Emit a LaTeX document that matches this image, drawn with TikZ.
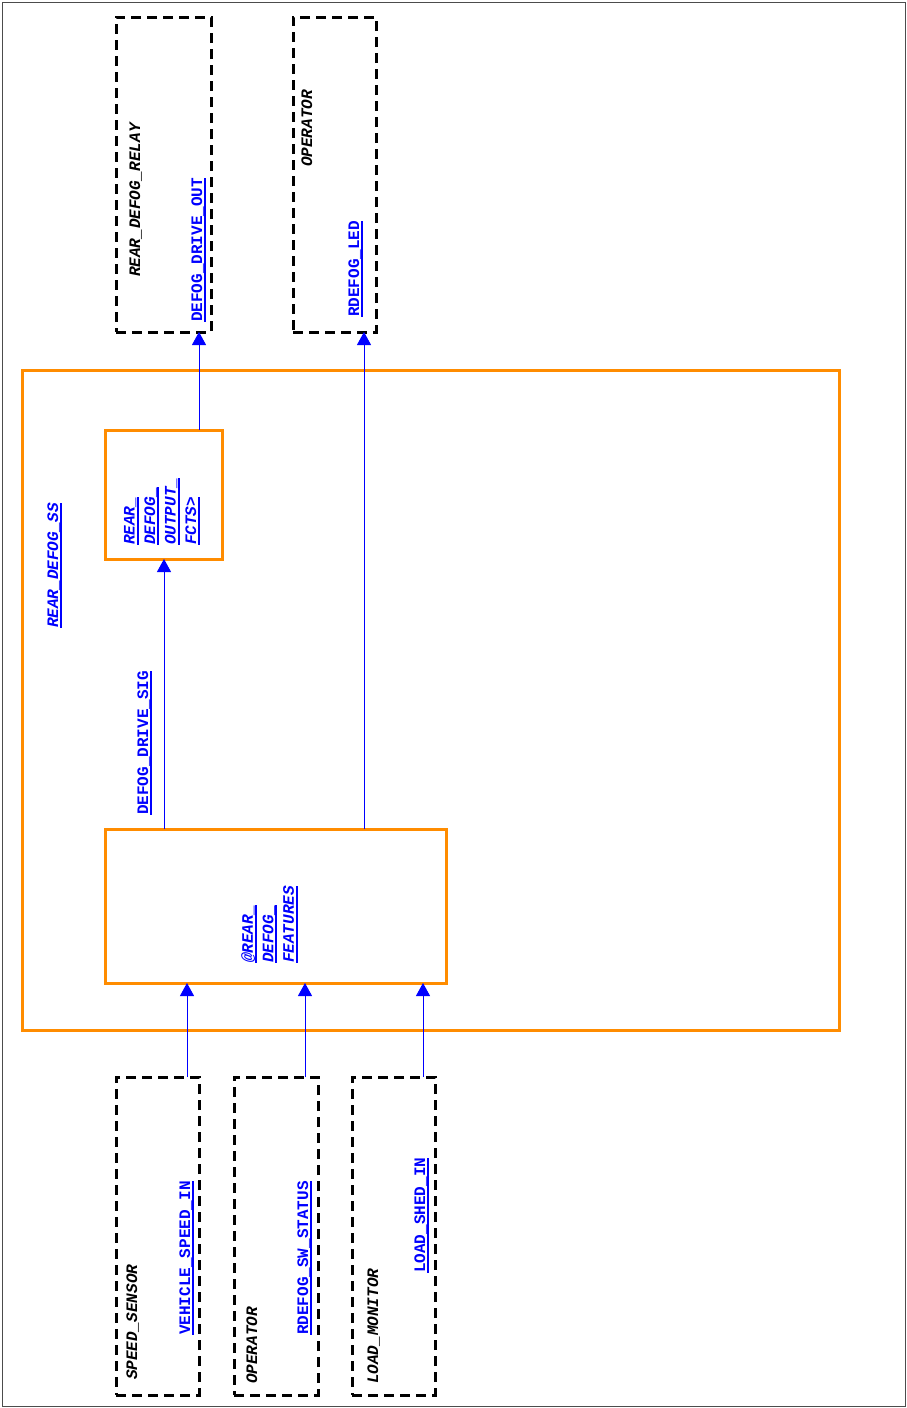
\documentclass[tikz,border=0pt]{standalone}
\usepackage{fontspec}
\setmonofont{Liberation Mono}
\usetikzlibrary{arrows.meta}
\definecolor{sigblue}{RGB}{0,0,255}
\definecolor{boxorange}{RGB}{255,140,0}
\newcommand\ulbox[1]{\setbox0\hbox{#1}\rlap{\color{sigblue}\rule[-3.8pt]{\wd0}{2pt}}\box0}
\begin{document}
\begin{tikzpicture}[x=1pt,y=-1pt,
  dbox/.style={draw=black, line width=3pt, dash pattern=on 10pt off 6pt, inner sep=0pt, outer sep=0pt, anchor=north west},
  obox/.style={draw=boxorange, line width=3pt, inner sep=0pt, outer sep=0pt, anchor=north west},
  blk/.style={font=\ttfamily\bfseries\itshape\fontsize{16}{20.5}\selectfont, text=black, inner sep=0pt, rotate=90, anchor=base west},
  bluit/.style={blk, text=sigblue},
  sigtxt/.style={blk, text=sigblue, font=\ttfamily\bfseries\fontsize{16}{20.5}\selectfont},
  multi/.style={bluit, align=left, anchor=north west},
  arr/.style={draw=sigblue, line width=1pt, -{Triangle[width=14pt,length=13pt]}}
]
\useasboundingbox (0,0) rectangle (907,1408);
\draw[black!70, line width=1pt] (2,2) rectangle (905,1406);

% boxes
\node[dbox, minimum width=95pt, minimum height=315pt] (relay) at (116,17) {};
\node[dbox, minimum width=83pt, minimum height=315pt] (opTop) at (293,17) {};
\node[obox, minimum width=817pt, minimum height=660pt] (ss) at (22,370) {};
\node[obox, minimum width=117pt, minimum height=129pt] (fcts) at (105,430) {};
\node[obox, minimum width=341pt, minimum height=154pt] (feat) at (105,829) {};
\node[dbox, minimum width=83pt, minimum height=318pt] (speed) at (116,1077) {};
\node[dbox, minimum width=84pt, minimum height=318pt] (opBot) at (234,1077) {};
\node[dbox, minimum width=83pt, minimum height=318pt] (load) at (352,1077) {};

% texts
\node[blk] (tRelay) at (140,277) {REAR\_DEFOG\_RELAY};
\node[sigtxt] (tDriveOut) at (202,322) {\ulbox{DEFOG\_DRIVE\_OUT}};
\node[blk] (tOpTop) at (312,167) {OPERATOR};
\node[sigtxt] (tLed) at (359,317) {\ulbox{RDEFOG\_LED}};
\node[bluit] (tSS) at (58,628) {\ulbox{REAR\_DEFOG\_SS}};
\node[multi] (tFcts) at (124,545) {\ulbox{REAR\_}\\\ulbox{DEFOG\_}\\\ulbox{OUTPUT\_}\\\ulbox{FCTS>}};
\node[sigtxt] (tSig) at (148,815) {\ulbox{DEFOG\_DRIVE\_SIG}};
\node[multi] (tFeat) at (241,963) {\ulbox{@REAR\_}\\\ulbox{DEFOG\_}\\\ulbox{FEATURES}};
\node[blk] (tSpeed) at (137,1380) {SPEED\_SENSOR};
\node[sigtxt] (tVeh) at (190,1335) {\ulbox{VEHICLE\_SPEED\_IN}};
\node[blk] (tOpBot) at (257,1384) {OPERATOR};
\node[sigtxt] (tSw) at (308,1335) {\ulbox{RDEFOG\_SW\_STATUS}};
\node[blk] (tLoad) at (378,1384) {LOAD\_MONITOR};
\node[sigtxt] (tShed) at (425,1273) {\ulbox{LOAD\_SHED\_IN}};

% connector columns
\coordinate (c199) at (199,0);
\coordinate (c364) at (364,0);
\coordinate (c164) at (164,0);
\coordinate (c187) at (187,0);
\coordinate (c305) at (305,0);
\coordinate (c423) at (423,0);

\draw[arr] (fcts.north -| c199) -- (relay.south -| c199);
\draw[arr] (feat.north -| c364) -- (opTop.south -| c364);
\draw[arr] (feat.north -| c164) -- (fcts.south -| c164);
\draw[arr] (speed.north -| c187) -- (feat.south -| c187);
\draw[arr] (opBot.north -| c305) -- (feat.south -| c305);
\draw[arr] (load.north -| c423) -- (feat.south -| c423);
\end{tikzpicture}
\end{document}
